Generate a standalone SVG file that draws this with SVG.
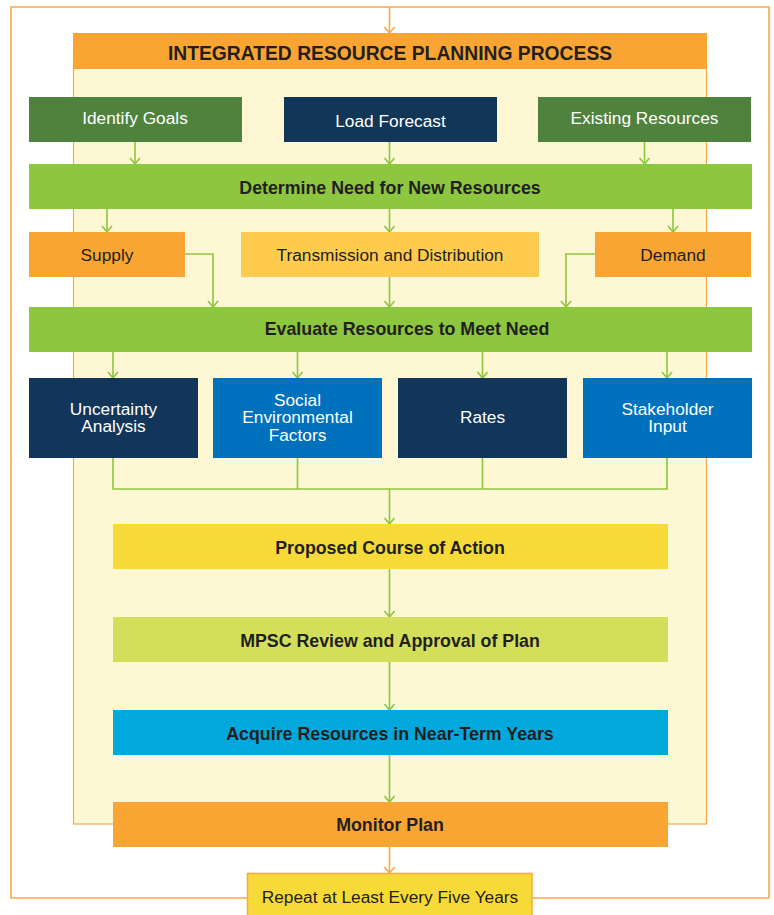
<svg xmlns="http://www.w3.org/2000/svg" width="774" height="915" viewBox="0 0 774 915">
  <style>
    .t { font-family: "Liberation Sans", Arial, Helvetica, sans-serif; font-size: 17.3px; text-anchor: middle; }
    .b { font-weight: bold; font-size: 17.8px; fill: #231f20; }
    .w { fill: #ffffff; }
    .d { fill: #231f20; }
    .g { fill: none; stroke: #8dc63f; stroke-width: 1.6; }
    .o { fill: none; stroke: #f9a84a; stroke-width: 1.6; }
  </style>
  <defs>
    <marker id="ag" markerWidth="10" markerHeight="14" viewBox="-8 -7 10 14" refX="0" refY="0" markerUnits="userSpaceOnUse" orient="auto">
      <path d="M-6,-5 L0,0 L-6,5" fill="none" stroke="#8dc63f" stroke-width="1.6"/>
    </marker>
    <marker id="ao" markerWidth="10" markerHeight="14" viewBox="-8 -7 10 14" refX="0" refY="0" markerUnits="userSpaceOnUse" orient="auto">
      <path d="M-6,-5 L0,0 L-6,5" fill="none" stroke="#f9a84a" stroke-width="1.6"/>
    </marker>
  </defs>

  <rect width="774" height="915" fill="#ffffff"/>

  <!-- process panel -->
  <g id="panel">
    <rect x="73.5" y="50" width="633" height="774" fill="#fdf8d3" stroke="#f9a84a" stroke-width="1.2"/>
    <rect x="73" y="33" width="634" height="36" fill="#f9a533"/>
    <text class="t b" x="390" y="59.5" style="font-size:19.3px">INTEGRATED RESOURCE PLANNING PROCESS</text>
  </g>

  <!-- connectors -->
  <g id="connectors">
    <!-- repeat loop -->
    <path class="o" d="M247,898 H11 V7 H769 V898 H532"/>
    <line class="o" x1="389.5" y1="7" x2="389.5" y2="33" marker-end="url(#ao)"/>
    <line class="o" x1="389.5" y1="847" x2="389.5" y2="873" marker-end="url(#ao)"/>

    <line class="g" x1="135" y1="142" x2="135" y2="164" marker-end="url(#ag)"/>
    <line class="g" x1="389.5" y1="142" x2="389.5" y2="164" marker-end="url(#ag)"/>
    <line class="g" x1="644.5" y1="142" x2="644.5" y2="164" marker-end="url(#ag)"/>

    <line class="g" x1="107" y1="209" x2="107" y2="232" marker-end="url(#ag)"/>
    <line class="g" x1="389.5" y1="209" x2="389.5" y2="232" marker-end="url(#ag)"/>
    <line class="g" x1="673" y1="209" x2="673" y2="232" marker-end="url(#ag)"/>

    <path class="g" d="M185,254 H213 V307" marker-end="url(#ag)"/>
    <line class="g" x1="389.5" y1="277" x2="389.5" y2="307" marker-end="url(#ag)"/>
    <path class="g" d="M595,254 H566 V307" marker-end="url(#ag)"/>

    <line class="g" x1="113" y1="352" x2="113" y2="378" marker-end="url(#ag)"/>
    <line class="g" x1="297.5" y1="352" x2="297.5" y2="378" marker-end="url(#ag)"/>
    <line class="g" x1="482.5" y1="352" x2="482.5" y2="378" marker-end="url(#ag)"/>
    <line class="g" x1="667" y1="352" x2="667" y2="378" marker-end="url(#ag)"/>

    <path class="g" d="M113,458 V489 H667 V458 M297.5,458 V489 M482.5,458 V489"/>
    <line class="g" x1="389.5" y1="489" x2="389.5" y2="524" marker-end="url(#ag)"/>
    <line class="g" x1="389.5" y1="569" x2="389.5" y2="617" marker-end="url(#ag)"/>
    <line class="g" x1="389.5" y1="662" x2="389.5" y2="710" marker-end="url(#ag)"/>
    <line class="g" x1="389.5" y1="755" x2="389.5" y2="802" marker-end="url(#ag)"/>
  </g>

  <!-- inputs -->
  <g id="identify-goals">
    <rect x="29" y="97" width="213" height="45" fill="#4f823c"/>
    <text class="t w" x="135" y="124">Identify Goals</text>
  </g>
  <g id="load-forecast">
    <rect x="284" y="97" width="213" height="45" fill="#123657"/>
    <text class="t w" x="390.5" y="127">Load Forecast</text>
  </g>
  <g id="existing-resources">
    <rect x="538" y="97" width="213" height="45" fill="#4f823c"/>
    <text class="t w" x="644.5" y="124">Existing Resources</text>
  </g>

  <g id="determine-need">
    <rect x="29" y="164" width="723" height="45" fill="#8dc63f"/>
    <text class="t b" x="390" y="194">Determine Need for New Resources</text>
  </g>

  <g id="supply">
    <rect x="29" y="232" width="156" height="45" fill="#f9a533"/>
    <text class="t d" x="107" y="261">Supply</text>
  </g>
  <g id="transmission-distribution">
    <rect x="241" y="232" width="298" height="45" fill="#fecb4f"/>
    <text class="t d" x="390" y="261">Transmission and Distribution</text>
  </g>
  <g id="demand">
    <rect x="595" y="232" width="156" height="45" fill="#f9a533"/>
    <text class="t d" x="673" y="261">Demand</text>
  </g>

  <g id="evaluate-resources">
    <rect x="29" y="307" width="723" height="45" fill="#8dc63f"/>
    <text class="t b" x="407" y="335">Evaluate Resources to Meet Need</text>
  </g>

  <g id="uncertainty-analysis">
    <rect x="29" y="378" width="169" height="80" fill="#12365a"/>
    <text class="t w" x="113.5" y="415">Uncertainty<tspan x="113.5" y="431.7">Analysis</tspan></text>
  </g>
  <g id="social-environmental">
    <rect x="213" y="378" width="169" height="80" fill="#0071bc"/>
    <text class="t w" x="297.5" y="406">Social<tspan x="297.5" y="423.3">Environmental</tspan><tspan x="297.5" y="440.6">Factors</tspan></text>
  </g>
  <g id="rates">
    <rect x="398" y="378" width="169" height="80" fill="#12365a"/>
    <text class="t w" x="482.5" y="422.7">Rates</text>
  </g>
  <g id="stakeholder-input">
    <rect x="583" y="378" width="169" height="80" fill="#0071bc"/>
    <text class="t w" x="667.5" y="415">Stakeholder<tspan x="667.5" y="431.7">Input</tspan></text>
  </g>

  <g id="proposed-course">
    <rect x="113" y="524" width="555" height="45" fill="#f7da37"/>
    <text class="t b" x="390" y="554">Proposed Course of Action</text>
  </g>
  <g id="mpsc-review">
    <rect x="113" y="617" width="555" height="45" fill="#d3df5b"/>
    <text class="t b" x="390" y="647">MPSC Review and Approval of Plan</text>
  </g>
  <g id="acquire-resources">
    <rect x="113" y="710" width="555" height="45" fill="#00a8dc"/>
    <text class="t b" x="390" y="740">Acquire Resources in Near-Term Years</text>
  </g>
  <g id="monitor-plan">
    <rect x="113" y="802" width="555" height="45" fill="#f9a533"/>
    <text class="t b" x="390" y="831">Monitor Plan</text>
  </g>

  <g id="repeat">
    <rect x="247.5" y="873.5" width="284.5" height="45" fill="#f7da37" stroke="#f9a84a" stroke-width="1.6"/>
    <text class="t d" x="390" y="903">Repeat at Least Every Five Years</text>
  </g>
</svg>
